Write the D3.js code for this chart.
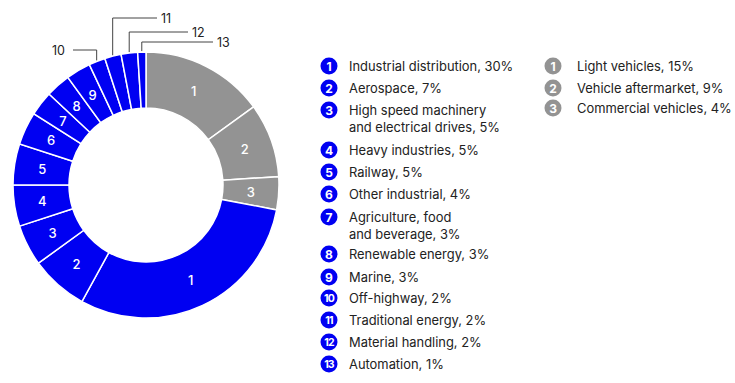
<!DOCTYPE html>
<html><head><meta charset="utf-8">
<script src="https://cdn.jsdelivr.net/npm/d3@7"></script>
<style>body{margin:0;background:#fff}svg{display:block}</style>
</head><body>
<svg id="chart" width="735" height="383"></svg>
<script>
const grayCategories = ["Light vehicles", "Vehicle aftermarket", "Commercial vehicles"];
const grayValues = [15, 9, 4];
const blueCategories = ["Industrial distribution", "Aerospace", "High speed machinery\nand electrical drives", "Heavy industries", "Railway", "Other industrial", "Agriculture, food\nand beverage", "Renewable energy", "Marine", "Off-highway", "Traditional energy", "Material handling", "Automation"];
const blueValues = [30, 7, 5, 5, 5, 4, 3, 3, 3, 2, 2, 2, 1];

const BLUE = "#0000f2", GRAY = "#939393", TEXT = "#222";
const FONT = "Inter, 'Noto Sans', sans-serif";
const svg = d3.select("#chart");
const cx = 146, cy = 185, R = 133, r = 77;

const data = [
  ...grayValues.map((v, i) => ({v, n: i + 1, c: GRAY, group: "g"})),
  ...blueValues.map((v, i) => ({v, n: i + 1, c: BLUE, group: "b"}))
];
const pie = d3.pie().sort(null).value(d => d.v);
const arcs = pie(data);
const arc = d3.arc().innerRadius(r).outerRadius(R);
const g = svg.append("g").attr("transform", `translate(${cx},${cy})`);
g.selectAll("path").data(arcs).join("path")
  .attr("d", arc).attr("fill", d => d.data.c)
  .attr("stroke", "#fff").attr("stroke-width", 1.5);

const labelArc = d3.arc().innerRadius((r + R) / 2).outerRadius((r + R) / 2);
g.selectAll("text.in").data(arcs.filter(d => !(d.data.group === "b" && d.data.n >= 10))).join("text")
  .attr("class", "in")
  .attr("x", d => labelArc.centroid(d)[0]).attr("y", d => labelArc.centroid(d)[1])
  .attr("text-anchor", "middle").attr("dominant-baseline", "central")
  .attr("fill", "#fff").attr("font-family", FONT).attr("font-size", 13).attr("font-weight", 500)
  .text(d => d.data.n);

// callouts for small slices
const callY = {10: -135, 11: -167, 12: -153, 13: -143};
const callEndX = {10: -73, 11: 11, 12: 42, 13: 67};
arcs.filter(d => d.data.group === "b" && d.data.n >= 10).forEach(d => {
  const a = (d.startAngle + d.endAngle) / 2;
  const x0 = Math.sin(a) * (R + 1), y0 = -Math.cos(a) * (R + 1);
  const n = d.data.n;
  const yy = callY[n];
  g.append("path")
    .attr("d", `M${x0},${y0}V${yy}H${callEndX[n]}`)
    .attr("fill", "none").attr("stroke", "#444").attr("stroke-width", 1);
  g.append("text")
    .attr("x", n === 10 ? callEndX[n] - 8 : callEndX[n] + 4)
    .attr("y", yy).attr("dominant-baseline", "central")
    .attr("text-anchor", n === 10 ? "end" : "start")
    .attr("fill", TEXT).attr("font-family", FONT).attr("font-size", 12.5)
    .text(n);
});

// legends
function legend(x, gap, ys, cats, vals, color) {
  const lg = svg.append("g");
  cats.forEach((c, i) => {
    const y = ys[i];
    lg.append("circle").attr("cx", x).attr("cy", y).attr("r", 8.5).attr("fill", color);
    lg.append("text").attr("x", x).attr("y", y + 0.5).attr("text-anchor", "middle")
      .attr("dominant-baseline", "central").attr("fill", "#fff")
      .attr("font-family", FONT).attr("font-weight", 700)
      .attr("font-size", i >= 9 ? 10.5 : 12).attr("letter-spacing", i >= 9 ? -0.8 : 0)
      .text(i + 1);
    const lines = c.split("\n");
    const t = lg.append("text").attr("x", x + gap).attr("y", y)
      .attr("dominant-baseline", "central").attr("fill", TEXT)
      .attr("font-family", FONT).attr("font-size", 12.9);
    lines.forEach((ln, j) => {
      t.append("tspan").attr("x", x + gap).attr("dy", j === 0 ? 0 : 17)
        .text(j === lines.length - 1 ? `${ln}, ${vals[i]}%` : ln);
    });
  });
}
legend(329, 20, [66, 88, 110, 150, 172, 194, 217, 254, 277, 298, 320, 342, 364], blueCategories, blueValues, BLUE);
legend(553, 24, [66, 88, 108], grayCategories, grayValues, GRAY);
</script>
</body></html>
